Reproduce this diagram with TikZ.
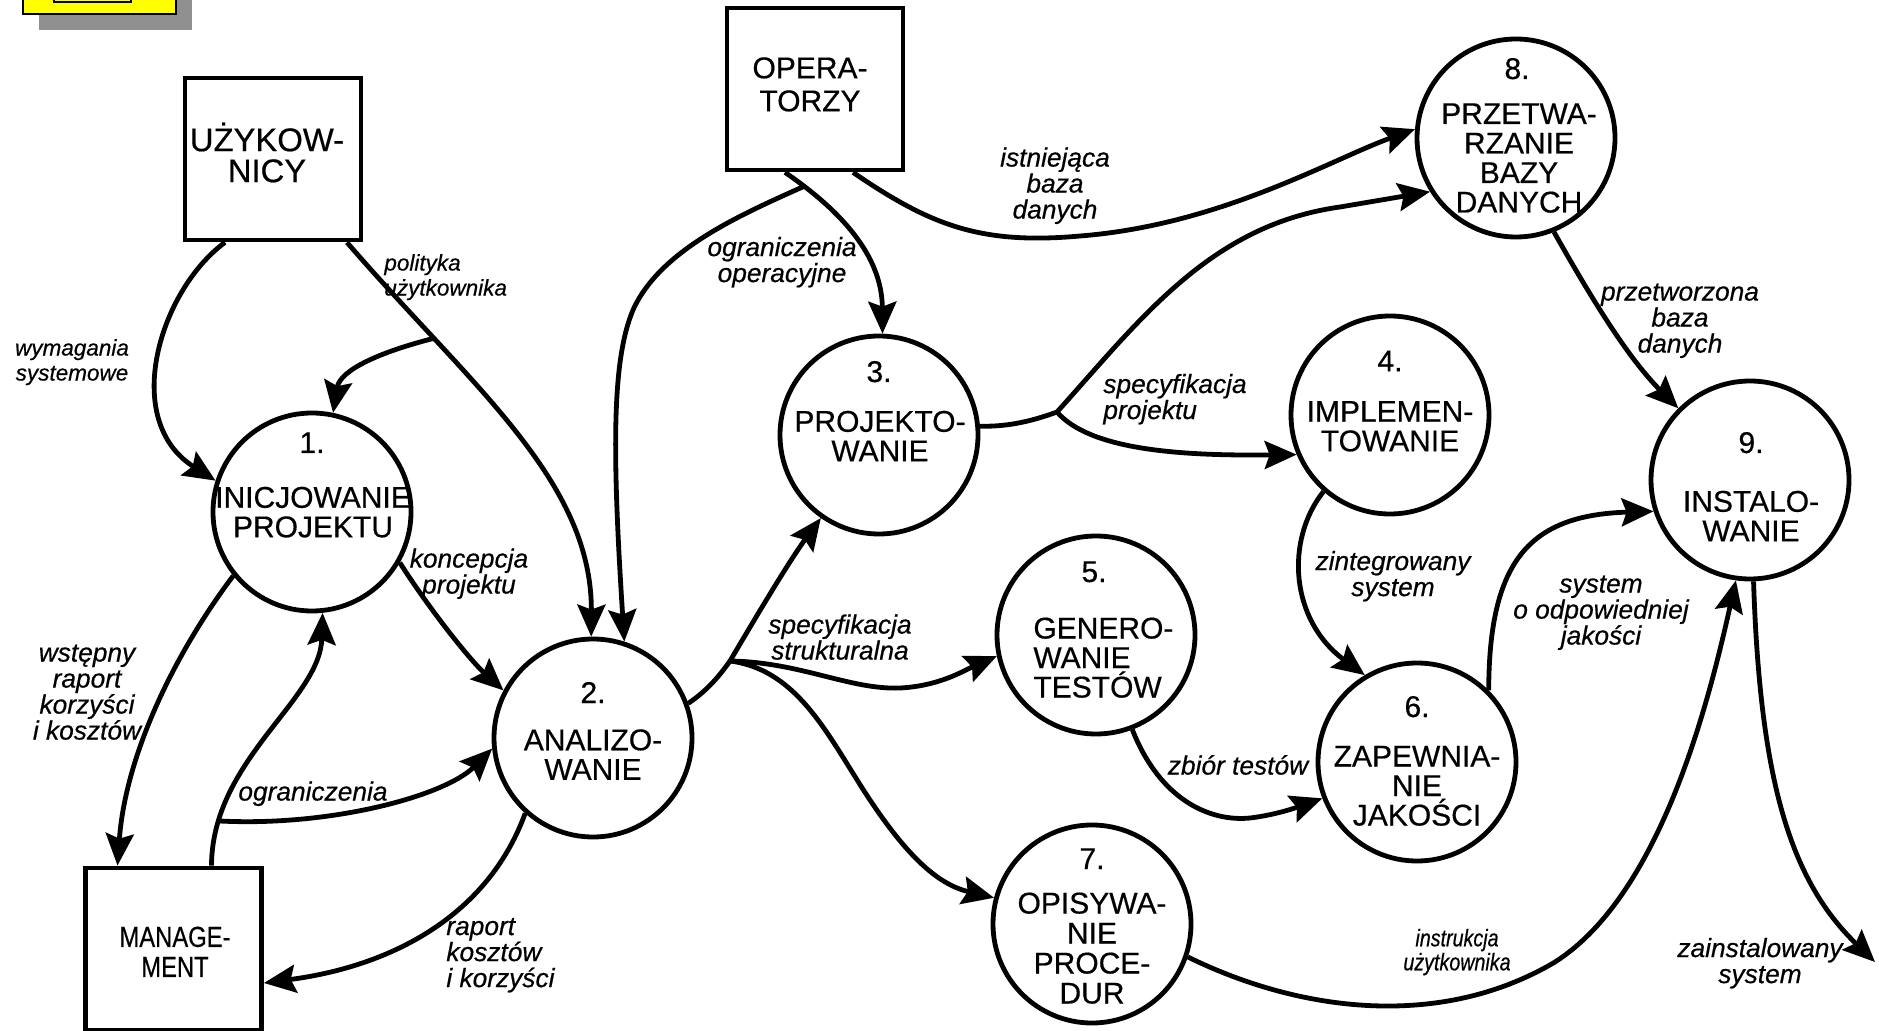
\documentclass[tikz,border=0pt]{standalone}
\usepackage{fontspec}
\setmainfont{Liberation Sans}[FakeBold=0.5]
\newfontfamily\narrowfont{Liberation Sans}[FakeStretch=0.82,FakeBold=0.5]
\usetikzlibrary{arrows.meta}
\definecolor{shadowgray}{RGB}{144,144,144}
\definecolor{boxyellow}{RGB}{255,255,0}
\newcommand\tfont[2]{\fontsize{#1}{#2}\selectfont\lineskiplimit=-1000pt\relax}
\newcommand\tstr{\vrule height 1em depth 0.35em width 0pt\relax}
\begin{document}
\begin{tikzpicture}[x=0.5pt,y=-0.5pt,
  lw/.style={line width=2.4pt},
  flow/.style={lw, -{Stealth[length=16pt,width=14pt,inset=2.5pt]}},
  link/.style={lw},
  proc/.style={circle, draw, lw, minimum size=99pt, inner sep=0pt},
  ext/.style={rectangle, draw, lw, minimum width=88pt, minimum height=81pt, inner sep=0pt},
  etit/.style={inner sep=0pt, align=center},
  pnum/.style={inner sep=0pt, font={\tfont{15}{15}}},
  ptit/.style={inner sep=0pt, align=center, font={\tfont{15}{14.75}}},
  lab/.style={inner sep=0pt, align=center, font={\itshape\tfont{13.15}{13}}},
  labs/.style={inner sep=0pt, align=center, font={\itshape\tfont{11.25}{12.5}}},
  labn/.style={inner sep=0pt, align=center, font={\narrowfont\itshape\tfont{12}{12}}},
]
\useasboundingbox (0,0) rectangle (1879,1031);
% decorative yellow box (top-left, cut off)
\begin{scope}
\clip (0,0) rectangle (1879,1031);
\fill[shadowgray] (39,-10) rectangle (192,30);
\filldraw[fill=boxyellow, line width=1.2pt] (23,-10) rectangle (176,14);
\draw[line width=1.2pt] (54,-10) rectangle (131,2);
\end{scope}

% external entities
\node[ext] (uz) at (273,159) {};
\node[etit, font={\tfont{16.4}{15.5}}] (uztit) at (267,156) {\tstr UŻYKOW-\\NICY\tstr};
\node[ext] (op) at (815,89) {};
\node[etit, font={\tfont{15}{16.5}}] (optit) at (810,85) {\tstr OPERA-\\TORZY\tstr};
\node[ext] (mg) at (173.5,949) {};
\node[etit, font={\narrowfont\tfont{14.5}{15}}] (mgtit) at (175,952.5) {\tstr MANAGE-\\MENT\tstr};

% processes
\node[proc] (n1) at (312,512) {};
\node[pnum] (n1num) at (312,443.25) {\tstr 1.\tstr};
\node[ptit] (n1tit) at (313,512.75) {\tstr INICJOWANIE\\PROJEKTU\tstr};

\node[proc] (n2) at (593,738) {};
\node[pnum] (n2num) at (593,693.25) {\tstr 2.\tstr};
\node[ptit] (n2tit) at (593,755.25) {\tstr ANALIZO-\\WANIE\tstr};

\node[proc] (n3) at (879,435) {};
\node[pnum] (n3num) at (879,372.25) {\tstr 3.\tstr};
\node[ptit] (n3tit) at (880,436.75) {\tstr PROJEKTO-\\WANIE\tstr};

\node[proc] (n4) at (1390,415) {};
\node[pnum] (n4num) at (1390,361.5) {\tstr 4.\tstr};
\node[ptit] (n4tit) at (1390,426.75) {\tstr IMPLEMEN-\\TOWANIE\tstr};

\node[proc] (n5) at (1096,635) {};
\node[pnum] (n5num) at (1094,572.25) {\tstr 5.\tstr};
\node[ptit, anchor=west, align=left] (n5tit) at (1033,658.25) {\tstr GENERO-\\WANIE\\TESTÓW\tstr};

\node[proc] (n6) at (1417,762) {};
\node[pnum] (n6num) at (1417,707.25) {\tstr 6.\tstr};
\node[ptit] (n6tit) at (1417,786.25) {\tstr ZAPEWNIA-\\NIE\\JAKOŚCI\tstr};

\node[proc] (n7) at (1092,924) {};
\node[pnum] (n7num) at (1092,859.25) {\tstr 7.\tstr};
\node[ptit, font={\tfont{15}{15}}] (n7tit) at (1092,948.75) {\tstr OPISYWA-\\NIE\\PROCE-\\DUR\tstr};

\node[proc] (n8) at (1516,138) {};
\node[pnum] (n8num) at (1517,69.25) {\tstr 8.\tstr};
\node[ptit] (n8tit) at (1519,158.5) {\tstr PRZETWA-\\RZANIE\\BAZY\\DANYCH\tstr};

\node[proc] (n9) at (1750,480) {};
\node[pnum] (n9num) at (1751,443.25) {\tstr 9.\tstr};
\node[ptit] (n9tit) at (1751,516.75) {\tstr INSTALO-\\WANIE\tstr};

% connectors
\draw[flow] ([xshift=-24pt]uz.south) .. controls (160,290) and (120,420) .. (n1.162);
\draw[flow] ([xshift=37pt]uz.south) .. controls (470,385) and (592,480) .. (n2.91) coordinate[pos=0.24] (jpol);
\draw[flow] (jpol) .. controls (380,352) and (340,370) .. (n1.78);
\draw[flow] (n1.219) .. controls (170,660) and (125,760) .. ([xshift=-28pt]mg.north);
\draw[flow] ([xshift=19pt]mg.north) .. controls (212,760) and (320,700) .. (n1.-84) coordinate[pos=0.15] (jmg);
\draw[flow] (jmg) .. controls (330,827) and (445,796) .. (n2.186);
\draw[flow] (n2.228) .. controls (490,910) and (400,965) .. ([yshift=-17pt]mg.east);
\draw[flow] (n1.-30) .. controls (430,610) and (470,660) .. (n2.152);

\draw[flow] ([xshift=-15pt]op.south) .. controls (840,210) and (882,255) .. (n3.88) coordinate[pos=0.12] (jop);
\draw[flow] (jop) .. controls (740,215) and (660,250) .. (633,310) .. controls (612,360) and (612,450) .. (n2.72);
\draw[flow] ([xshift=19pt]op.south) .. controls (930,225) and (980,245) .. (1080,236) .. controls (1220,225) and (1330,160) .. (n8.175);

\coordinate (jspec) at (1057,412);
\draw[link] (n3.5) .. controls (1010,427) and (1035,420) .. (jspec);
\draw[flow] (jspec) .. controls (1140,320) and (1210,225) .. (1340,207) -- (n8.212);
\draw[flow] (jspec) .. controls (1090,450) and (1180,456) .. (n4.203);

\coordinate (jstr) at (730,661);
\draw[link] (n2.20) .. controls (708,690) and (720,675) .. (jstr);
\draw[flow] (jstr) .. controls (760,610) and (790,560) .. (n3.235);
\draw[flow] (jstr) .. controls (800,662) and (850,690) .. (900,688) .. controls (940,686) and (965,670) .. (n5.192);
\draw[flow] (jstr) .. controls (800,670) and (830,740) .. (870,800) .. controls (910,860) and (940,885) .. (n7.165);

\draw[flow] (n8.-68) .. controls (1595,305) and (1630,360) .. (n9.135);
\draw[flow] (n4.229) .. controls (1285,540) and (1290,620) .. (n6.121);
\draw[flow] (n5.-69) .. controls (1160,800) and (1210,822) .. (1250,818) .. controls (1275,815) and (1295,808) .. (n6.201);
\draw[flow] (n6.45) .. controls (1489,560) and (1530,515) .. (n9.198);
\draw[flow] (n7.-19) .. controls (1300,1012) and (1440,1030) .. (1555,962) .. controls (1660,895) and (1708,705) .. (n9.-98);
\coordinate (out) at (1875,962);
\draw[flow] (n9.-88) .. controls (1760,780) and (1790,880) .. (out);

% labels
\node[labs] (l1) at (72,360.7) {\tstr wymagania\\systemowe\tstr};
\node[labs, anchor=west, align=left] (l2) at (384,275.7) {\tstr polityka\\użytkownika\tstr};
\node[lab] (l3) at (87,692) {\tstr wstępny\\raport\\korzyści\\i kosztów\tstr};
\node[lab, anchor=west, align=left] (l4) at (238,792) {\tstr ograniczenia\tstr};
\node[lab] (l5) at (469,572) {\tstr koncepcja\\projektu\tstr};
\node[lab, anchor=west, align=left] (l6) at (446,952.5) {\tstr raport\\kosztów\\i korzyści\tstr};
\node[lab] (l7) at (782,260.5) {\tstr ograniczenia\\operacyjne\tstr};
\node[lab] (l8) at (1055,184) {\tstr istniejąca\\baza\\danych\tstr};
\node[lab, anchor=west, align=left] (l9) at (1103,397.5) {\tstr specyfikacja\\projektu\tstr};
\node[lab] (l10) at (840,638) {\tstr specyfikacja\\strukturalna\tstr};
\node[lab] (l11) at (1680,318) {\tstr przetworzona\\baza\\danych\tstr};
\node[lab] (l12) at (1393,574.5) {\tstr zintegrowany\\system\tstr};
\node[lab] (l13) at (1238,766) {\tstr zbiór testów\tstr};
\node[lab] (l14) at (1601,610) {\tstr system\\o odpowiedniej\\jakości\tstr};
\node[labn] (l15) at (1457,950.5) {\tstr instrukcja\\użytkownika\tstr};
\node[lab] (l16) at (1760,961.5) {\tstr zainstalowany\\system\tstr};
\end{tikzpicture}
\end{document}
